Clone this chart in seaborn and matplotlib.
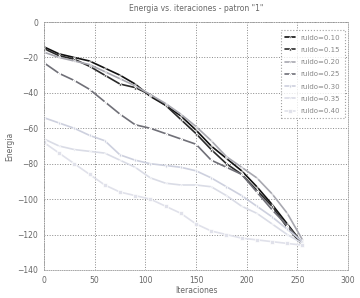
import pandas as pd
import matplotlib
matplotlib.use('Agg')
import matplotlib.pyplot as plt
import seaborn as sns

# iteraciones
it = [0, 15, 30, 45, 60, 75, 90, 105, 120, 135, 150, 165, 180, 195, 210, 225, 240, 255]

e010 = [-14, -18, -20, -22, -26, -30, -35, -42, -47, -53, -61, -70, -77, -84, -93, -103, -114, -125]
e015 = [-15, -19, -21, -25, -30, -35, -37, -41, -47, -55, -63, -72, -80, -86, -95, -104, -116, -126]
e020 = [-17, -20, -22, -24, -28, -32, -36, -41, -46, -52, -59, -67, -76, -82, -88, -97, -108, -123]
e025 = [-23, -29, -33, -38, -45, -52, -58, -60, -63, -66, -69, -78, -82, -86, -96, -106, -115, -125]
e030 = [-54, -57, -60, -64, -67, -75, -78, -80, -81, -82, -84, -88, -93, -98, -104, -110, -117, -124]
e035 = [-66, -70, -72, -73, -74, -78, -82, -88, -91, -92, -92, -93, -98, -104, -108, -114, -120, -125]
e040 = [-68, -74, -80, -86, -92, -96, -98, -100, -104, -108, -114, -118, -120, -122, -123, -124, -125, -126]

labels = ['ruido=0.10', 'ruido=0.15', 'ruido=0.20', 'ruido=0.25',
          'ruido=0.30', 'ruido=0.35', 'ruido=0.40']
series = [e010, e015, e020, e025, e030, e035, e040]

rows = []
for lab, vals in zip(labels, series):
    for x, y in zip(it, vals):
        rows.append({'Iteraciones': x, 'Energia': y, 'ruido': lab})
df = pd.DataFrame(rows)

colores = ['#111111', '#2a2a2a', '#a8a8b0', '#707078', '#cdd0de', '#dadce6', '#e0e1ea']
marcas = ['.', '^', '.', '*', 'd', '.', 's']

sns.set_style('white')
plt.rcParams['font.family'] = ['DejaVu Sans']

fig = plt.figure(figsize=(3.6, 2.98), dpi=100)
ax = fig.add_axes([0.122, 0.094, 0.845, 0.832])

sns.lineplot(data=df, x='Iteraciones', y='Energia', hue='ruido', style='ruido',
             palette=colores, markers=marcas, dashes=False, markersize=2.2,
             linewidth=1.2, markeredgewidth=0.5, ax=ax)

ax.set_xlim(0, 300)
ax.set_ylim(-140, 0)
ax.set_xticks(range(0, 301, 50))
ax.set_yticks(range(-140, 1, 20))
ax.grid(True, linestyle=':', color='#888888', linewidth=0.7)
ax.tick_params(labelsize=5.5, colors='#666666', length=2, pad=2)
for s in ax.spines.values():
    s.set_color('#999999')
    s.set_linewidth(0.6)
    s.set_linestyle(':')

ax.set_xlabel('Iteraciones', fontsize=5.5, color='#666666', labelpad=1)
ax.set_ylabel('Energia', fontsize=5.5, color='#666666', labelpad=2)
ax.set_title('Energia vs. iteraciones - patron "1"', fontsize=5.5, color='#666666', pad=8)

leg = ax.legend(loc='upper right', fontsize=5, frameon=True, fancybox=False,
                borderpad=0.6, labelspacing=0.9, handlelength=1.5,
                bbox_to_anchor=(1.0, 0.98))
leg.get_frame().set_edgecolor('#888888')
leg.get_frame().set_linestyle(':')
leg.get_frame().set_linewidth(0.8)
for t in leg.get_texts():
    t.set_color('#888888')

fig.savefig('out.png', dpi=100)
